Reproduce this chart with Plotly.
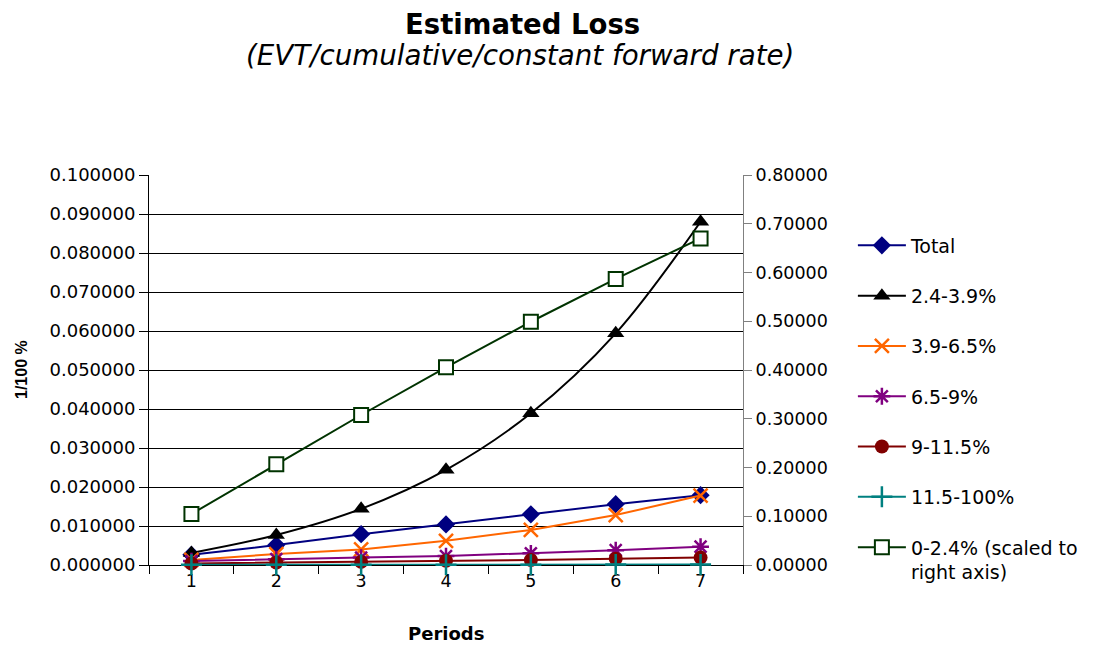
import plotly.graph_objects as go

periods = ["1", "2", "3", "4", "5", "6", "7"]
total = [0.0026, 0.0051, 0.0079, 0.0104, 0.0130, 0.0156, 0.0179]
s_24_39 = [0.0031, 0.0077, 0.0144, 0.0244, 0.0389, 0.0594, 0.0880]
s_39_65 = [0.0013, 0.0028, 0.0040, 0.0062, 0.0090, 0.0128, 0.0178]
s_65_9 = [0.0010, 0.0015, 0.0019, 0.0023, 0.0030, 0.0038, 0.0047]
s_9_115 = [0.0004, 0.0006, 0.0008, 0.0011, 0.0013, 0.0016, 0.0019]
s_115_100 = [0.00005, 0.00006, 0.00007, 0.00008, 0.00009, 0.0001, 0.0001]
s_0_24 = [0.1046, 0.2066, 0.3077, 0.4055, 0.4990, 0.5867, 0.6700]

left_ticks = [0.0, 0.01, 0.02, 0.03, 0.04, 0.05, 0.06, 0.07, 0.08, 0.09, 0.10]
right_ticks = [0.0, 0.1, 0.2, 0.3, 0.4, 0.5, 0.6, 0.7, 0.8]

FONT = "DejaVu Sans"

fig = go.Figure()

def add(name, y, color, symbol, size, yaxis="y", shape="linear", mcolor=None, mline=None, lg=None):
    marker = dict(symbol=symbol, size=size, color=mcolor or color)
    if mline:
        marker["line"] = mline
    fig.add_trace(go.Scatter(
        x=periods, y=y, name=name, mode="lines+markers",
        line=dict(color=color, width=2, shape=shape),
        marker=marker, yaxis=yaxis, legendgroup=lg or name,
        cliponaxis=False,
    ))

add("Total", total, "#000080", "diamond", 14)
add("2.4-3.9%", s_24_39, "#000000", "triangle-up", 15, shape="spline")
add("3.9-6.5%", s_39_65, "#FF6600", "x-thin-open", 14, mline=dict(color="#FF6600", width=2.5))
add("6.5-9%", s_65_9, "#800080", "asterisk-open", 14, mline=dict(color="#800080", width=2.5))
add("9-11.5%", s_9_115, "#800000", "circle", 14)
add("11.5-100%", s_115_100, "#008080", "cross-thin-open", 15, mline=dict(color="#008080", width=2.5))
add("0-2.4% (scaled to<br>right axis)", s_0_24, "#003300", "square", 14, yaxis="y2",
    mcolor="#FFFFFF", mline=dict(color="#003300", width=2), lg="g7")

# page body has an 8px default margin, so the figure is a bit smaller
fig.update_layout(
    width=1087, height=640,
    margin=dict(l=141, r=352, t=167, b=83),
    paper_bgcolor="white", plot_bgcolor="white",
    font=dict(family=FONT, size=17, color="black"),
    showlegend=True,
    legend=dict(x=1.185, xanchor="left", y=0.868, yanchor="top",
                font=dict(family=FONT, size=19), tracegroupgap=22.6,
                itemwidth=48,
                valign="top", bgcolor="rgba(0,0,0,0)"),
    xaxis=dict(type="category", range=[-0.5, 6.5], tickson="boundaries",
               ticks="outside", ticklen=8, tickcolor="black",
               showline=True, linecolor="black", linewidth=1,
               showgrid=False, zeroline=False, layer="below traces",
               tickfont=dict(family=FONT, size=17.5)),
    yaxis=dict(range=[0, 0.1], tickvals=left_ticks, tickformat=".6f",
               ticks="outside", ticklen=9, tickcolor="black",
               showline=True, linecolor="black", linewidth=1,
               showgrid=True, gridcolor="#000000", gridwidth=1,
               zeroline=False, layer="below traces",
               tickfont=dict(family=FONT, size=18)),
    yaxis2=dict(range=[0, 0.8], tickvals=right_ticks, tickformat=".5f",
                overlaying="y", side="right",
                ticks="outside", ticklen=8, tickcolor="#808080",
                showline=True, linecolor="#808080", linewidth=1,
                showgrid=False, zeroline=False,
                tickfont=dict(family=FONT, size=17.5)),
    annotations=[
        dict(text="<b>Estimated Loss</b>", xref="paper", yref="paper",
             x=0.6296, y=(565 - 24) / 390, xanchor="center", yanchor="middle",
             showarrow=False, font=dict(family=FONT, size=27.5)),
        dict(text="<i>(EVT/cumulative/constant forward rate)</i>", xref="paper", yref="paper",
             x=0.6246, y=(565 - 56) / 390, xanchor="center", yanchor="middle",
             showarrow=False, font=dict(family=FONT, size=27.7)),
        dict(text="<b>1/100 %</b>", xref="paper", yref="paper",
             x=(21 - 149) / 594, y=(565 - 370) / 390, xanchor="center", yanchor="middle",
             textangle=-90, showarrow=False, font=dict(family="Liberation Sans", size=16)),
        dict(text="<b>Periods</b>", xref="paper", yref="paper",
             x=0.5, y=(565 - 633) / 390, xanchor="center", yanchor="middle",
             showarrow=False, font=dict(family=FONT, size=18)),
    ],
)

fig.write_html("out.html")
